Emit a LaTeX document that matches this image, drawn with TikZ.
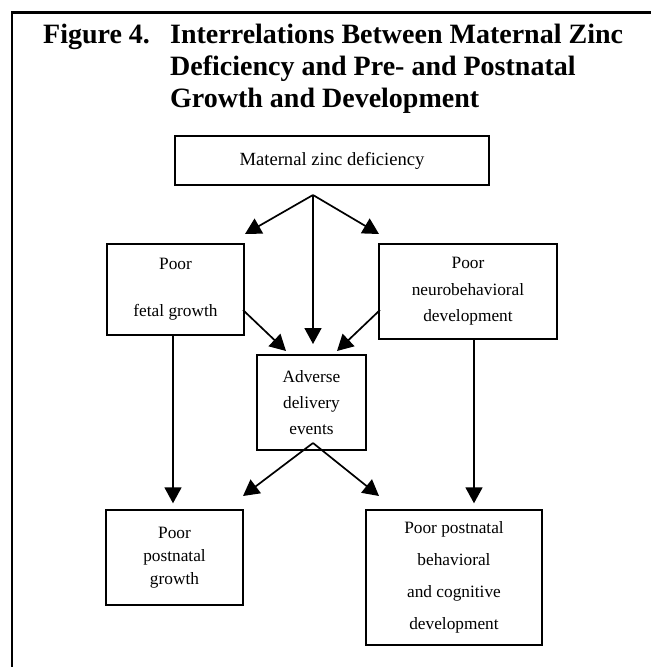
\documentclass[tikz,border=0pt]{standalone}
\usepackage{fontspec}
\setmainfont{Liberation Serif}
\usetikzlibrary{arrows.meta}
\begin{document}
\begin{tikzpicture}[x=1pt,y=-1pt,
  box/.style={draw, line width=1.4pt, inner sep=0pt, align=center},
  arr/.style={line width=1.7pt, -{Triangle[length=16pt,width=17pt]}},
  ttl/.style={inner sep=0pt, anchor=base west, font=\fontsize{28}{32}\selectfont\bfseries},
]
\useasboundingbox (0,0) rectangle (651,667);
% frame
\draw[line width=2.6pt] (12,667) -- (12,12.5) -- (651,12.5);
% title
\node[ttl] (fig) at (43,43) {Figure 4.};
\node[ttl, align=left] (title) at (170,107) {Interrelations Between Maternal Zinc\\Deficiency and Pre- and Postnatal\\Growth and Development};
% boxes
\node[box, minimum width=314pt, minimum height=49pt, font=\fontsize{18.6}{22}\selectfont] (mat) at (332,160.5) {Maternal zinc deficiency};
\node[box, minimum width=137pt, minimum height=91pt, font=\fontsize{17.3}{22}\selectfont] (fetal) at (175.5,289.5) {Poor\\[25pt]fetal growth};
\node[box, minimum width=178pt, minimum height=95pt, font=\fontsize{17.3}{26.5}\selectfont] (neuro) at (468,291.5) {Poor\\neurobehavioral\\development};
\node[box, minimum width=109pt, minimum height=95pt, font=\fontsize{17.3}{26}\selectfont] (adv) at (311.5,402.5) {Adverse\\delivery\\events};
\node[box, minimum width=137pt, minimum height=95pt, font=\fontsize{17.3}{23}\selectfont] (ppg) at (174.5,557.5) {Poor\\postnatal\\growth};
\node[box, minimum width=176pt, minimum height=135pt, font=\fontsize{17.3}{32}\selectfont] (ppb) at (454,577.5) {Poor postnatal\\behavioral\\and cognitive\\development};
% connector points
\coordinate (apexT) at (313,195);
\coordinate (tipL) at (245,234);
\coordinate (tipR) at (379,234);
\coordinate (tipC) at (313,344);
\coordinate (fo) at (243,310);
\coordinate (fa) at (286,351);
\coordinate (no) at (380,310);
\coordinate (na) at (337,351);
\coordinate (apexB) at (313,443);
\coordinate (tipBL) at (243,496);
\coordinate (tipBR) at (379,496);
% connectors
\draw[arr] (apexT) -- (tipL);
\draw[arr] (apexT) -- (tipR);
\draw[arr] (apexT) -- (tipC);
\draw[arr] (fo) -- (fa);
\draw[arr] (no) -- (na);
\draw[arr] (apexB) -- (tipBL);
\draw[arr] (apexB) -- (tipBR);
\draw[arr] ([xshift=-2.5pt]fetal.south) -- ([xshift=-2.5pt,yshift=6pt]fetal.south |- ppg.north);
\draw[arr] ([xshift=6pt]neuro.south) -- ([xshift=6pt,yshift=6pt]neuro.south |- ppb.north);
\end{tikzpicture}
\end{document}
